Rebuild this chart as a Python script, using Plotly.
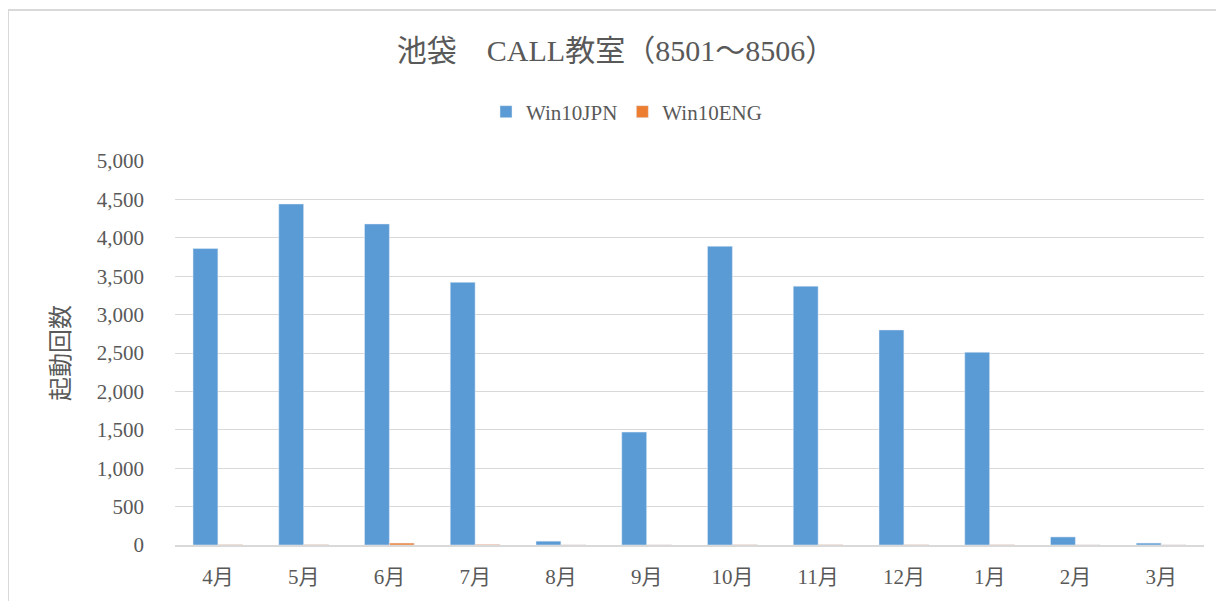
import plotly.graph_objects as go

months = ["4月", "5月", "6月", "7月", "8月", "9月", "10月", "11月", "12月", "1月", "2月", "3月"]
win10jpn = [3860, 4440, 4180, 3420, 50, 1470, 3890, 3370, 2800, 2510, 105, 25]
win10eng = [5, 5, 25, 8, 2, 2, 4, 4, 4, 4, 2, 2]
tick_vals = [0, 500, 1000, 1500, 2000, 2500, 3000, 3500, 4000, 4500, 5000]
tick_text = ["0", "500", "1,000", "1,500", "2,000", "2,500", "3,000", "3,500", "4,000", "4,500", "5,000"]

FONT = "Liberation Serif, Noto Sans CJK JP, serif"
GRAY = "#595959"

fig = go.Figure()
fig.add_trace(go.Bar(name="Win10JPN", x=months, y=win10jpn, marker_color="#5b9bd5"))
fig.add_trace(go.Bar(name="Win10ENG", x=months, y=win10eng, marker_color="#ed7d31"))

# page is offset by 8px (body margin); work in figure coordinates
OFF = 8
W, H = 1224 - OFF, 601 - OFF
L, R, T, B = 175 - OFF, 20, 161 - OFF, 56
pw, ph = W - L - R, H - T - B

def px(x):
    return (x - OFF - L) / pw

def py(y):
    return (H - B - (y - OFF)) / ph

fig.update_layout(
    width=W, height=H,
    margin=dict(l=L, r=R, t=T, b=B),
    paper_bgcolor="white", plot_bgcolor="white",
    barmode="group", bargap=0.42, bargroupgap=0,
    font=dict(family=FONT, color=GRAY, size=21),
    title=dict(text="池袋　CALL教室（8501～8506）", x=0.5, xanchor="center",
               y=1 - (50 - OFF) / H, yanchor="middle",
               font=dict(family=FONT, size=30, color=GRAY)),
    legend=dict(orientation="h", x=px(486), xanchor="left", y=py(112), yanchor="middle",
                font=dict(family=FONT, size=21, color=GRAY), itemwidth=30,
                traceorder="normal"),
    xaxis=dict(showline=True, linecolor="#d9d9d9", linewidth=1.5, ticks="",
               ticklabelstandoff=12,
               tickfont=dict(family=FONT, size=21, color=GRAY)),
    yaxis=dict(range=[0, 5000], tickvals=tick_vals, ticktext=tick_text,
               showgrid=True, gridcolor="#d9d9d9", gridwidth=1, zeroline=False,
               showline=False, ticks="", ticklabelstandoff=30,
               tickfont=dict(family=FONT, size=21, color=GRAY)),
    showlegend=True,
)

fig.update_yaxes(title=dict(text="起動回数", font=dict(family=FONT, size=24, color=GRAY),
                            standoff=20))

fig.add_shape(type="rect", xref="paper", yref="paper",
              x0=px(8), x1=px(1240), y0=py(620), y1=py(10),
              line=dict(color="#d9d9d9", width=2), fillcolor="rgba(0,0,0,0)", layer="below")

fig.write_html("out.html")
